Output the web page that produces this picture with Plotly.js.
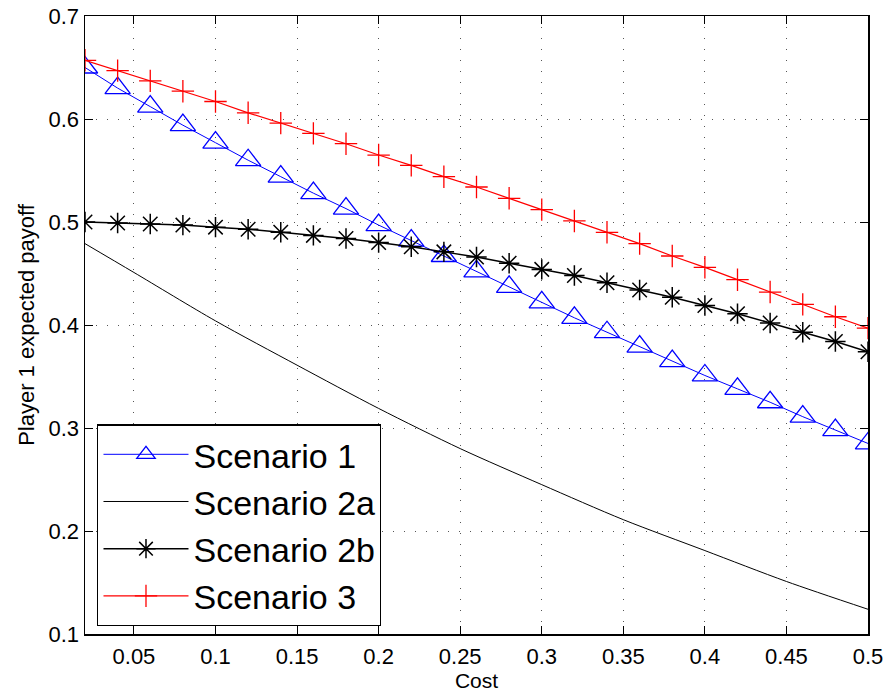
<!DOCTYPE html>
<html>
<head>
<meta charset="utf-8">
<script src="https://cdn.plot.ly/plotly-3.0.1.min.js"></script>
<style>html,body{margin:0;padding:0;background:#fff;}#chart{width:886px;height:693px;}</style>
</head>
<body>
<div id="chart"></div>
<script>
// Data
var cost = [0.02,0.04,0.06,0.08,0.10,0.12,0.14,0.16,0.18,0.20,0.22,0.24,0.26,0.28,0.30,0.32,0.34,0.36,0.38,0.40,0.42,0.44,0.46,0.48,0.50];
var scenario1 = [0.650,0.630,0.612,0.594,0.577,0.560,0.544,0.528,0.513,0.497,0.482,0.467,0.452,0.437,0.422,0.407,0.393,0.379,0.365,0.351,0.338,0.325,0.311,0.298,0.285];
var scenario2bVals = [0.500,0.499,0.498,0.497,0.495,0.493,0.490,0.487,0.484,0.480,0.476,0.471,0.466,0.460,0.454,0.448,0.441,0.434,0.427,0.419,0.411,0.402,0.393,0.384,0.374];
var scenario3 = [0.657,0.647,0.637,0.627,0.617,0.606,0.596,0.586,0.576,0.565,0.555,0.544,0.534,0.523,0.512,0.501,0.490,0.479,0.467,0.456,0.444,0.432,0.420,0.408,0.397];
var cost2a = [0.02,0.05,0.10,0.15,0.20,0.25,0.30,0.35,0.40,0.45,0.50];
var scenario2a = [0.479,0.451,0.404,0.361,0.319,0.280,0.245,0.211,0.181,0.151,0.124];
var seriesNames = ["Scenario 1","Scenario 2a","Scenario 2b","Scenario 3"];
var xTickVals = [0.05,0.1,0.15,0.2,0.25,0.3,0.35,0.4,0.45,0.5];
var xTickText = ["0.05","0.1","0.15","0.2","0.25","0.3","0.35","0.4","0.45","0.5"];
var yTickVals = [0.1,0.2,0.3,0.4,0.5,0.6,0.7];
var yTickText = ["0.1","0.2","0.3","0.4","0.5","0.6","0.7"];

var FONT = "Liberation Sans, Arial, Helvetica, sans-serif";

var traces = [
  {x: cost, y: scenario1, name: seriesNames[0], mode: "lines+markers",
   line: {color: "#0000ff", width: 1},
   marker: {symbol: "triangle-up-open", size: 22, color: "#0000ff", line: {width: 1.3, color: "#0000ff"}}},
  {x: cost2a, y: scenario2a, name: seriesNames[1], mode: "lines",
   line: {color: "#000000", width: 1, shape: "spline", smoothing: 0.8}},
  {x: cost, y: scenario2bVals, name: seriesNames[2], mode: "lines+markers",
   line: {color: "#000000", width: 1.5},
   marker: {symbol: "asterisk-open", size: 17, color: "#000000", line: {width: 1.5, color: "#000000"}}},
  {x: cost, y: scenario3, name: seriesNames[3], mode: "lines+markers",
   line: {color: "#ff0000", width: 1.2},
   marker: {symbol: "cross-thin-open", size: 16, color: "#ff0000", line: {width: 1.3, color: "#ff0000"}}}
];

var axisCommon = {
  showline: true, mirror: "ticks", linecolor: "#000", linewidth: 1.5,
  ticks: "inside", ticklen: 8, tickcolor: "#000", tickwidth: 1,
  showgrid: true, gridcolor: "#555", gridwidth: 1, griddash: "1px,10px",
  zeroline: false, tickfont: {family: FONT, size: 22, color: "#000"}
};

var layout = {
  width: 886, height: 693,
  margin: {l: 85, r: 18, t: 16, b: 59},
  paper_bgcolor: "#fff", plot_bgcolor: "#fff",
  font: {family: FONT, color: "#000"},
  xaxis: Object.assign({}, axisCommon, {
    range: [0.02, 0.5], tickmode: "array", tickvals: xTickVals, ticktext: xTickText,
    ticklabelstandoff: 2,
    title: {text: "Cost", font: {family: FONT, size: 21, color: "#000"}, standoff: 1}
  }),
  yaxis: Object.assign({}, axisCommon, {
    range: [0.1, 0.7], tickmode: "array", tickvals: yTickVals, ticktext: yTickText,
    title: {text: "Player 1 expected payoff", font: {family: FONT, size: 22, color: "#000"}, standoff: 8}
  }),
  showlegend: true,
  legend: {
    x: 0.0157, y: 0.339, xanchor: "left", yanchor: "top",
    bgcolor: "#fff", bordercolor: "#000", borderwidth: 1.2,
    font: {family: FONT, size: 34, color: "#000"},
    itemwidth: 85, tracegroupgap: 0
  }
};

Plotly.newPlot("chart", traces, layout, {displayModeBar: false, staticPlot: true});
</script>
</body>
</html>
